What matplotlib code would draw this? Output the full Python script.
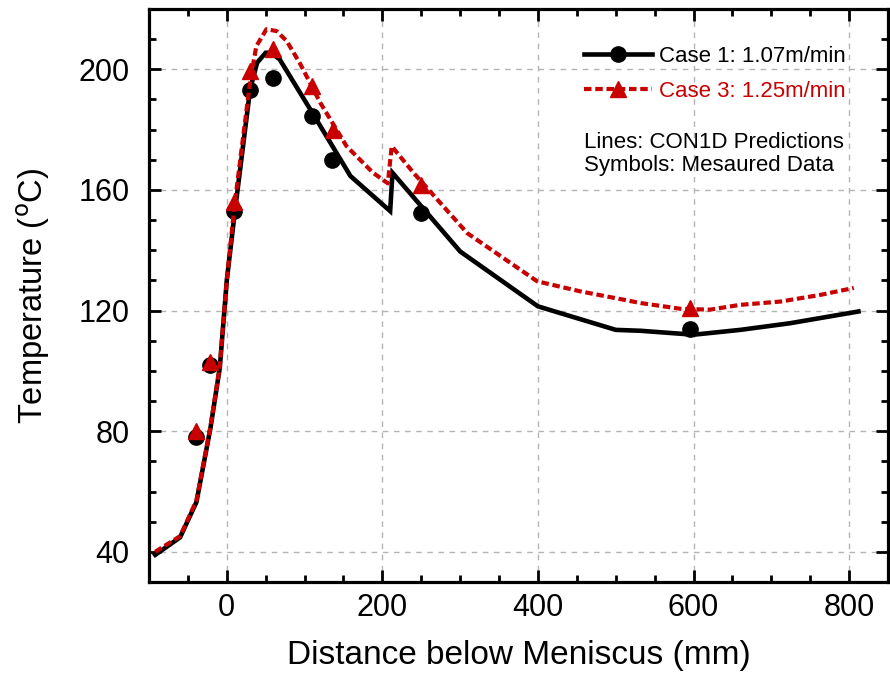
import matplotlib
matplotlib.use('Agg')
from matplotlib import pyplot as plt
from matplotlib.lines import Line2D
from matplotlib.ticker import MultipleLocator

# CON1D predictions (lines)
case1_x = [-92, -60, -39, -21, -9, 0, 10, 30, 39, 50, 57, 68, 109, 159, 210, 213,
           250, 300, 400, 500, 532, 600, 660, 724, 812]
case1_y = [39, 44.8, 56.5, 81, 101, 130, 152, 193.4, 202.2, 205.5, 205.5, 203.3, 186, 164.6, 153, 165.7,
           154.6, 139.6, 121.4, 113.6, 113.3, 112, 113.6, 115.8, 119.7]

case3_x = [-92, -60, -39, -21, -9, 0, 10, 30, 38, 51, 64, 77, 94, 120, 154, 188, 207, 212,
           240, 309, 399, 454, 532, 583, 621, 660, 712, 763, 806]
case3_y = [40, 45.2, 57, 81.5, 101.5, 130, 155, 196, 207.7, 213.3, 212.7, 209.4, 202, 189, 174.5, 165.7, 162.2, 174.5,
           165.7, 145.7, 129.7, 126.4, 122.5, 120.6, 120.3, 121.9, 123, 125.2, 127.5]

# measured data (symbols)
meas1_x = [-40, -21, 9, 30, 60, 109, 135, 250, 595]
meas1_y = [78, 102, 153, 193, 197.2, 184.5, 170, 152.4, 114]

meas3_x = [-40, -21, 9, 30, 60, 109, 136, 250, 596]
meas3_y = [80, 103, 156, 199.4, 206.6, 194.5, 180, 161.8, 121]

labels = ["Case 1: 1.07m/min", "Case 3: 1.25m/min"]
red = '#c80000'

plt.rcParams['font.family'] = ['Liberation Sans', 'DejaVu Sans']

fig = plt.figure(figsize=(8.9, 6.79), dpi=100)
ax = fig.add_axes([0.1674, 0.1429, 0.8304, 0.8438])

ax.plot(case1_x, case1_y, color='black', lw=3.3, solid_joinstyle='miter', zorder=3)
ax.plot(meas1_x, meas1_y, 'o', color='black', ms=11, zorder=4)
ax.plot(case3_x, case3_y, color=red, lw=3.0, dashes=(1.8, 0.9), zorder=5)
ax.plot(meas3_x, meas3_y, '^', color=red, ms=12, zorder=6)

ax.set_xlim(-100, 850)
ax.set_ylim(30, 220)
ax.xaxis.set_major_locator(MultipleLocator(200))
ax.xaxis.set_minor_locator(MultipleLocator(50))
ax.yaxis.set_major_locator(MultipleLocator(40))
ax.yaxis.set_minor_locator(MultipleLocator(10))
ax.tick_params(which='both', direction='in', top=True, right=True, width=2)
ax.tick_params(which='major', length=8.5, labelsize=22)
ax.tick_params(which='minor', length=5)
ax.tick_params(axis='x', which='major', pad=8)
ax.tick_params(axis='y', which='major', pad=14)
for s in ax.spines.values():
    s.set_linewidth(2.3)
ax.grid(True, which='major', color='#b4b4b4', ls=(0, (4, 4)), lw=1)

ax.set_xlabel("Distance below Meniscus (mm)", fontsize=24, labelpad=12)
ax.set_ylabel("Temperature ($^{\\rm o}$C)", fontsize=23.5, labelpad=19)

handles = [Line2D([], [], color='black', lw=3.3, marker='o', ms=11),
           Line2D([], [], color=red, lw=3.0, dashes=(1.8, 0.9), marker='^', ms=12)]
leg = ax.legend(handles, labels, loc='upper left', bbox_to_anchor=(0.588, 0.936),
                frameon=False, fontsize=16, handlelength=3.1, handletextpad=0.3,
                labelspacing=0.65, borderpad=0, borderaxespad=0)
leg.get_texts()[1].set_color(red)

ax.text(0.588, 0.786, "Lines: CON1D Predictions\nSymbols: Mesaured Data",
        transform=ax.transAxes, fontsize=16, va='top', ha='left', linespacing=1.15)

fig.savefig('out.png', dpi=100)
